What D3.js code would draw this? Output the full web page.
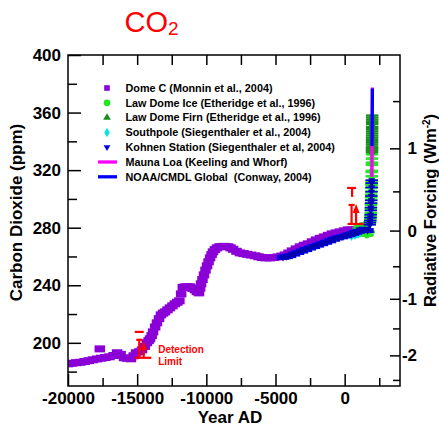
<!DOCTYPE html>
<html>
<head>
<meta charset="utf-8">
<script src="https://cdn.jsdelivr.net/npm/d3@7"></script>
<style>
  body { margin: 0; background: #fff; }
  svg { display: block; }
  text { font-family: "Liberation Sans", Arial, Helvetica, sans-serif; }
</style>
</head>
<body>
<svg id="chart" width="439" height="432"></svg>
<script>
// ---- Axis ranges and ticks ----
const yearDomain = [-20000, 4000];
const co2Domain = [170, 400];
const yearMajorTicks = [-20000, -15000, -10000, -5000, 0];
const yearMinorTicks = [-17500, -12500, -7500, -2500, 2500];
const co2MajorTicks = [200, 240, 280, 320, 360, 400];
const co2MinorTicks = [180, 220, 260, 300, 340, 380];
const rfMajorTicks = [-2, -1, 0, 1];
const rfMinorTicks = [-2.5, -1.5, -0.5, 0.5, 1.5];
const C0 = 278;          // reference CO2 for radiative forcing
const RF_COEF = 5.35;    // W m-2 per ln(C/C0)

// ---- Dome C (Monnin et al., 2004) ----
const domeCYears = [-20000, -19700, -19400, -19100, -18800, -18500, -18200, -17900, -17700, -17600,
  -17300, -17000, -16700, -16450, -16200, -15950, -15700, -15450, -15250, -15080, -14850, -14650,
  -14450, -14300, -14170, -14070, -13950, -13850, -13700, -13570, -13420, -13280, -13130, -12990,
  -12810, -12630, -12450, -12270, -12100, -11950, -11820, -11700, -11550, -11350, -11180, -11000,
  -10820, -10680, -10530, -10450, -10380, -10280, -10170, -10060, -9950, -9840, -9730, -9620, -9520,
  -9380, -9230, -9050, -8870, -8650, -8430, -8250, -8070, -7820, -7570, -7310, -7060, -6770, -6480,
  -6230, -5980, -5690, -5400, -5110, -4820, -4560, -4310, -4060, -3810, -3520, -3230, -2940, -2650,
  -2360, -2070, -1780, -1490, -1200, -920, -630, -340, -50, 240, 530, 820, 1110, 1400];
const domeCPpm = [185.4, 185.8, 186.2, 186.5, 187.0, 187.6, 188.2, 188.8, 195.8, 189.3,
  189.8, 190.3, 191.2, 193.1, 192.0, 189.6, 189.2, 188.9, 191.0, 193.1, 193.8, 195.1,
  197.5, 200.0, 201.5, 202.8, 205.0, 207.6, 211.0, 213.9, 216.8, 219.4, 220.6, 221.5,
  222.9, 224.3, 225.7, 227.1, 228.2, 229.2, 234.0, 238.5, 238.9, 239.0, 238.9, 237.8,
  236.8, 235.5, 234.7, 238.0, 241.0, 244.0, 247.2, 250.5, 253.5, 256.3, 259.0, 261.3, 263.2,
  264.8, 266.0, 266.8, 267.0, 267.0, 266.8, 266.0, 265.0, 263.6, 262.5, 262.0, 261.5, 261.0, 260.5,
  259.8, 259.3, 259.0, 259.0, 259.3, 259.7, 260.3, 261.1, 262.4, 263.9, 265.3, 266.7, 267.8, 268.8,
  270.2, 271.5, 272.6, 273.6, 274.7, 275.7, 276.4, 277.1, 277.8, 278.5, 278.5, 278.5, 278.8, 279.2];

// ---- Law Dome Ice (Etheridge et al., 1996) ----
const lawIceYears = [1006, 1100, 1200, 1300, 1400, 1500, 1550, 1600, 1650, 1700, 1750, 1800, 1816,
  1833, 1847, 1861, 1872, 1877, 1883, 1890, 1899, 1905, 1910, 1915, 1921, 1926, 1932, 1938, 1943,
  1948, 1953, 1959, 1962, 1965, 1968, 1970, 1973, 1975, 1978];
const lawIcePpm = [279.4, 281.0, 282.0, 281.5, 280.0, 281.0, 282.0, 274.5, 275.0, 277.0, 277.0, 282.9, 283.8,
  284.5, 285.0, 286.6, 287.4, 288.8, 290.3, 293.0, 295.7, 296.9, 299.3, 301.2, 303.0, 305.1, 307.6, 310.4, 309.5,
  311.1, 312.7, 315.7, 318.7, 319.5, 323.7, 325.2, 328.0, 331.0, 335.0];

// ---- Law Dome Firn (Etheridge et al., 1996) ----
const lawFirnYears = [1976, 1977, 1978, 1979, 1980, 1981, 1982, 1983, 1984, 1985, 1986, 1987, 1988,
  1989, 1990, 1991, 1992, 1993];
const lawFirnPpm = [332.5, 333.8, 335.2, 336.5, 338.0, 339.5, 341.0, 342.5, 344.0, 345.5, 347.0, 348.5, 350.0,
  352.0, 353.5, 355.0, 356.5, 358.0];

// ---- Southpole (Siegenthaler et al., 2004) ----
const southpoleYears = [500, 750, 1000];
const southpolePpm = [273.8, 274.5, 275.3];

// ---- Kohnen Station (Siegenthaler et al., 2004) ----
const kohnenYears = [-4450, -4200, -3950, -3660, -3370, -3080, -2800, -2510, -2220, -1930, -1640,
  -1350, -1060, -770, -480, -190, 100, 350, 600, 800, 1000, 1250, 1450, 1650, 1810, 1830, 1850, 1865,
  1880, 1890, 1900, 1910, 1920, 1930, 1940, 1948, 1955, 1960];
const kohnenPpm = [259.4, 259.9, 260.6, 261.7, 262.8, 263.8, 264.8, 265.9, 266.9, 267.9, 268.9,
  269.9, 270.9, 272.0, 273.0, 273.7, 274.4, 275.2, 276.0, 276.8, 277.5, 278.5, 279.0, 278.0, 282.0, 283.5, 285.0, 287.0,
  289.0, 292.0, 294.0, 297.0, 299.0, 302.0, 305.0, 308.0, 311.0, 313.0];

// ---- Mauna Loa (Keeling and Whorf) ----
const maunaLoaYears = [1958, 1960, 1965, 1970, 1975, 1980, 1985, 1990, 1995, 2000, 2004];
const maunaLoaPpm = [315.3, 316.9, 320.0, 325.7, 331.1, 338.7, 346.1, 354.4, 360.9, 369.5, 377.4];

// ---- NOAA/CMDL Global (Conway, 2004) ----
const noaaYears = [1979, 1985, 1990, 1995, 2000, 2004];
const noaaPpm = [336.7, 345.5, 353.9, 360.0, 368.8, 376.8];

// ---- Rate-of-change markers with detection limit ----
const rateYears = [-14850, 500];
const rateLimitPpm = [207.6, 307.6];
const rateLimitStemPpm = [207.6, 301.4];
const rateTopPpm = [202.1, 295.8];
const rateArrowTipPpm = [200.5, 295.8];
const rateBasePpm = [189.6, 282.6];

const DOMEC_AGE_ERR = 380;  // half-width of Dome C age error bars, years
const AGE_ERR = 450;        // half-width of the other age error bars, years
const INDUSTRIAL_START = 1790; // samples after this are drawn with thin error bars

// ---- Colours ----
const col = {
  domeC: "#8a00d6", lawIce: "#22e622", lawFirn: "#1a8c1a", southpole: "#00e6e6",
  kohnen: "#0000e0", mauna: "#ff00ff", noaa: "#0000ff", red: "#ff0000"
};

const svg = d3.select("#chart");
const plot = { left: 68, right: 400, top: 55, bottom: 386 };
const x = d3.scaleLinear().domain(yearDomain).range([plot.left, plot.right]);
const y = d3.scaleLinear().domain(co2Domain).range([plot.bottom, plot.top]);
const rfToPpm = rf => C0 * Math.exp(rf / RF_COEF);

const zip = (xs, ys) => xs.map((v, i) => ({ year: v, ppm: ys[i] }));

// ---- Title ----
const title = svg.append("text").attr("x", 124.5).attr("y", 31.5)
  .attr("fill", col.red).attr("font-size", 29);
title.append("tspan").text("CO");
title.append("tspan").text("2").attr("font-size", 19).attr("dy", 3);

// ---- Data ----
svg.append("clipPath").attr("id", "plotclip").append("rect")
  .attr("x", plot.left).attr("y", plot.top)
  .attr("width", plot.right - plot.left).attr("height", plot.bottom - plot.top);
const data = svg.append("g").attr("clip-path", "url(#plotclip)");

function errBars(g, pts, color, h, err) {
  const hh = typeof h === "function" ? h : () => h;
  g.selectAll("rect.err").data(pts).join("rect").attr("class", "err")
    .attr("x", d => x(d.year - err)).attr("width", d => x(d.year + err) - x(d.year - err))
    .attr("y", d => y(d.ppm) - hh(d) / 2).attr("height", d => hh(d)).attr("fill", color);
}

// Dome C: thick bars spanning the age error of each sample
errBars(data.append("g"), zip(domeCYears, domeCPpm), col.domeC, 7, DOMEC_AGE_ERR);

// Southpole
const gSP = data.append("g");
errBars(gSP, zip(southpoleYears, southpolePpm), col.southpole, 3, AGE_ERR);
gSP.selectAll("path").data(zip(southpoleYears, southpolePpm)).join("path")
  .attr("d", d3.symbol(d3.symbolDiamond, 22)())
  .attr("transform", d => `translate(${x(d.year)},${y(d.ppm)})`).attr("fill", col.southpole);

// Law Dome Ice
const gLI = data.append("g");
errBars(gLI, zip(lawIceYears, lawIcePpm), col.lawIce, 2.5, AGE_ERR);
gLI.selectAll("circle").data(zip(lawIceYears, lawIcePpm)).join("circle")
  .attr("cx", d => x(d.year)).attr("cy", d => y(d.ppm)).attr("r", 2.8).attr("fill", col.lawIce);

// Law Dome Firn
const gLF = data.append("g");
errBars(gLF, zip(lawFirnYears, lawFirnPpm), col.lawFirn, 2.2, AGE_ERR);
gLF.selectAll("path").data(zip(lawFirnYears, lawFirnPpm)).join("path")
  .attr("d", d3.symbol(d3.symbolTriangle, 22)())
  .attr("transform", d => `translate(${x(d.year)},${y(d.ppm)})`).attr("fill", col.lawFirn);

// Kohnen Station
const gK = data.append("g");
errBars(gK, zip(kohnenYears, kohnenPpm), col.kohnen, d => d.year > INDUSTRIAL_START ? 1.6 : 5, AGE_ERR);
gK.selectAll("path").data(zip(kohnenYears, kohnenPpm)).join("path")
  .attr("d", d3.symbol(d3.symbolTriangle, 22)())
  .attr("transform", d => `translate(${x(d.year)},${y(d.ppm)}) rotate(180)`).attr("fill", "#0000b0");

// Instrumental records
const line = d3.line().x(d => x(d.year)).y(d => y(d.ppm));
data.append("path").datum(zip(maunaLoaYears, maunaLoaPpm)).attr("d", line)
  .attr("fill", "none").attr("stroke", col.mauna).attr("stroke-width", 3.3);
data.append("path").datum(zip(noaaYears, noaaPpm)).attr("d", line)
  .attr("fill", "none").attr("stroke", col.noaa).attr("stroke-width", 3.3);

// Rate-of-change markers
const rg = svg.append("g").attr("stroke", col.red).attr("stroke-width", 2.2).attr("fill", col.red);
rateYears.forEach((yr, i) => {
  const cx = x(yr);
  const yl = y(rateLimitPpm[i]), ys = y(rateLimitStemPpm[i]);
  const yt = y(rateTopPpm[i]), yb = y(rateBasePpm[i]), ya = y(rateArrowTipPpm[i]);
  rg.append("line").attr("x1", cx - 4.5).attr("x2", cx + 4.5).attr("y1", yl).attr("y2", yl);
  if (ys > yl + 0.5) rg.append("line").attr("x1", cx + 0.5).attr("x2", cx + 0.5).attr("y1", yl).attr("y2", ys);
  rg.append("line").attr("x1", cx).attr("x2", cx).attr("y1", yt).attr("y2", yb);
  rg.append("line").attr("x1", cx - 3).attr("x2", cx + 3).attr("y1", yt).attr("y2", yt);
  rg.append("line").attr("x1", cx + 4.5).attr("x2", cx + 4.5).attr("y1", ya + 5).attr("y2", yb);
  rg.append("path").attr("stroke", "none")
    .attr("d", `M${cx + 4.5},${ya - 1}L${cx + 1},${ya + 8}L${cx + 8},${ya + 8}Z`);
  rg.append("line").attr("x1", cx - 4).attr("x2", cx + 12).attr("y1", yb).attr("y2", yb);
});
const det = svg.append("g").attr("fill", col.red).attr("font-size", 10).attr("font-weight", "bold");
det.append("text").attr("x", x(rateYears[0]) + 19).attr("y", 353).text("Detection");
det.append("text").attr("x", x(rateYears[0]) + 19).attr("y", 364.5).text("Limit");

// ---- Axes ----
function styleAxis(g) {
  g.select(".domain").remove();
  g.selectAll(".tick line").attr("stroke", "#000").attr("stroke-width", 1.5);
  g.selectAll(".tick text").attr("fill", "#000").attr("font-size", 17).attr("font-weight", "bold")
    .attr("font-family", '"Liberation Sans", Arial, Helvetica, sans-serif');
}
const fmtYear = d => d < 0 ? "-" + Math.abs(d) : String(d);

svg.append("g").attr("transform", `translate(0,${plot.bottom})`)
  .call(d3.axisBottom(x).tickValues(yearMajorTicks).tickSize(-12).tickPadding(6).tickFormat(fmtYear)).call(styleAxis);
svg.append("g").attr("transform", `translate(0,${plot.bottom})`)
  .call(d3.axisBottom(x).tickValues(yearMinorTicks).tickSize(-8).tickFormat("")).call(styleAxis);
svg.append("g").attr("transform", `translate(0,${plot.top})`)
  .call(d3.axisTop(x).tickValues(yearMinorTicks.concat(yearMajorTicks.slice(1))).tickSize(-10).tickFormat("")).call(styleAxis);

svg.append("g").attr("transform", `translate(${plot.left},0)`)
  .call(d3.axisLeft(y).tickValues(co2MajorTicks).tickSize(-13).tickPadding(7)).call(styleAxis);
svg.append("g").attr("transform", `translate(${plot.left},0)`)
  .call(d3.axisLeft(y).tickValues(co2MinorTicks).tickSize(-9).tickFormat("")).call(styleAxis);

const rightMajor = svg.append("g").attr("transform", `translate(${plot.right},0)`)
  .call(d3.axisRight(y).tickValues(rfMajorTicks.map(rfToPpm)).tickSize(-10).tickPadding(4)
    .tickFormat(d => String(Math.round(RF_COEF * Math.log(d / C0))))).call(styleAxis);
rightMajor.selectAll(".tick text").attr("text-anchor", "end").attr("x", 17);
svg.append("g").attr("transform", `translate(${plot.right},0)`)
  .call(d3.axisRight(y).tickValues(rfMinorTicks.map(rfToPpm)).tickSize(-7).tickFormat("")).call(styleAxis);

// Frame
svg.append("rect").attr("x", plot.left).attr("y", plot.top)
  .attr("width", plot.right - plot.left).attr("height", plot.bottom - plot.top)
  .attr("fill", "none").attr("stroke", "#000").attr("stroke-width", 1.5);

// Axis titles
svg.append("text").attr("x", (plot.left + plot.right) / 2 - 4).attr("y", 423)
  .attr("text-anchor", "middle").attr("font-size", 17).attr("font-weight", "bold").text("Year AD");
svg.append("text").attr("transform", `translate(22,${(plot.top + plot.bottom) / 2 - 8}) rotate(-90)`)
  .attr("text-anchor", "middle").attr("font-size", 17).attr("font-weight", "bold").text("Carbon Dioxide (ppm)");
const rt = svg.append("text").attr("transform", `translate(436,${(plot.top + plot.bottom) / 2 - 10}) rotate(-90)`)
  .attr("text-anchor", "middle").attr("font-size", 16.5).attr("font-weight", "bold");
rt.append("tspan").text("Radiative Forcing (Wm");
rt.append("tspan").text("-2").attr("font-size", 10).attr("dy", -6);
rt.append("tspan").text(")").attr("dy", 6);

// ---- Legend ----
const legendItems = [
  { label: "Dome C (Monnin et al., 2004)", type: "square", color: col.domeC },
  { label: "Law Dome Ice (Etheridge et al., 1996)", type: "circle", color: col.lawIce },
  { label: "Law Dome Firn (Etheridge et al., 1996)", type: "triangle", color: col.lawFirn },
  { label: "Southpole (Siegenthaler et al., 2004)", type: "diamond", color: col.southpole },
  { label: "Kohnen Station (Siegenthaler et al, 2004)", type: "down", color: col.kohnen },
  { label: "Mauna Loa (Keeling and Whorf)", type: "line", color: col.mauna },
  { label: "NOAA/CMDL Global  (Conway, 2004)", type: "line", color: col.noaa }
];
const lg = svg.append("g");
legendItems.forEach((it, i) => {
  const cy = 88 + i * 14.8, mx = 107;
  if (it.type === "square") lg.append("rect").attr("x", mx - 2.8).attr("y", cy - 2.8).attr("width", 5.6).attr("height", 5.6).attr("fill", it.color);
  else if (it.type === "circle") lg.append("circle").attr("cx", mx).attr("cy", cy).attr("r", 3.4).attr("fill", it.color);
  else if (it.type === "triangle") lg.append("path").attr("d", d3.symbol(d3.symbolTriangle, 26)()).attr("transform", `translate(${mx},${cy})`).attr("fill", it.color);
  else if (it.type === "diamond") lg.append("path").attr("d", d3.symbol(d3.symbolDiamond, 26)()).attr("transform", `translate(${mx},${cy})`).attr("fill", it.color);
  else if (it.type === "down") lg.append("path").attr("d", d3.symbol(d3.symbolTriangle, 20)()).attr("transform", `translate(${mx},${cy}) rotate(180)`).attr("fill", it.color);
  else lg.append("line").attr("x1", 98).attr("x2", 117).attr("y1", cy).attr("y2", cy).attr("stroke", it.color).attr("stroke-width", 3.3);
  lg.append("text").attr("x", 125.5).attr("y", cy + 3.8).attr("font-size", 10.8).attr("font-weight", "bold")
    .style("white-space", "pre").text(it.label);
});
</script>
</body>
</html>
